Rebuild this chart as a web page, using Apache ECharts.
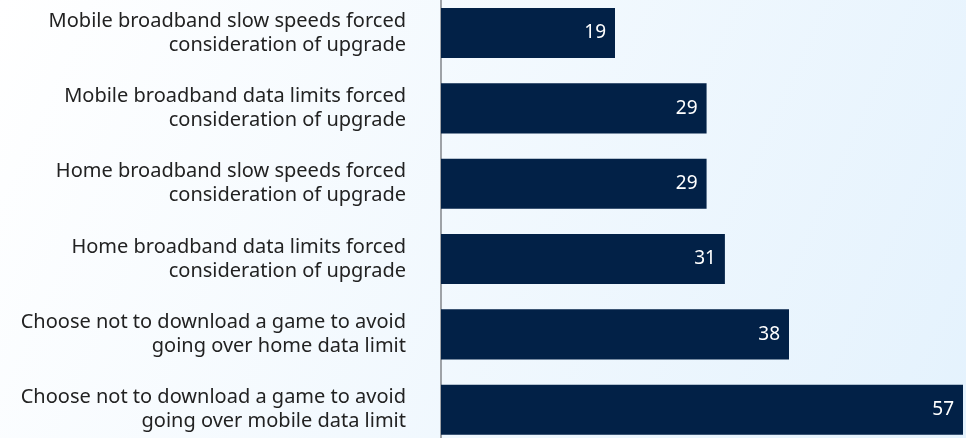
<!DOCTYPE html>
<html>
<head>
<meta charset="utf-8">
<script src="https://cdn.jsdelivr.net/npm/echarts@6/dist/echarts.min.js"></script>
<style>
  html, body { margin: 0; padding: 0; }
  #chart { width: 966px; height: 438px; }
</style>
</head>
<body>
<div id="chart"></div>
<script>
// categories listed bottom to top (category axis is inverted below)
const categories = [
  "Mobile broadband slow speeds forced\nconsideration of upgrade",
  "Mobile broadband data limits forced\nconsideration of upgrade",
  "Home broadband slow speeds forced\nconsideration of upgrade",
  "Home broadband data limits forced\nconsideration of upgrade",
  "Choose not to download a game to avoid\ngoing over home data limit",
  "Choose not to download a game to avoid\ngoing over mobile data limit"
];
const values = [19, 29, 29, 31, 38, 57];

const chart = echarts.init(document.getElementById("chart"));
chart.setOption({
  animation: false,
  backgroundColor: {
    type: "linear",
    x: 0, y: 0, x2: 1, y2: 1,
    colorStops: [
      { offset: 0, color: "#ffffff" },
      { offset: 1, color: "#e4f2fd" }
    ]
  },
  grid: {
    left: 441,
    width: 522,
    top: -4.6,
    height: 452,
    outerBoundsMode: "none"
  },
  xAxis: {
    type: "value",
    min: 0,
    max: 57,
    show: false
  },
  yAxis: {
    type: "category",
    inverse: true,
    data: categories,
    axisLine: { show: true, lineStyle: { color: "#9ea2a7", width: 2 } },
    axisTick: { show: false },
    axisLabel: {
      margin: 35,
      align: "right",
      color: "#222222",
      fontFamily: "Noto Sans",
      fontSize: 20,
      lineHeight: 24,
      padding: [2, 0, 0, 0]
    }
  },
  series: [
    {
      type: "bar",
      data: values,
      barCategoryGap: "33.5%",
      itemStyle: { color: "#022147" },
      label: {
        show: true,
        position: "insideRight",
        distance: 9,
        color: "#ffffff",
        fontFamily: "Noto Sans",
        fontSize: 19
      }
    }
  ]
});
</script>
</body>
</html>
